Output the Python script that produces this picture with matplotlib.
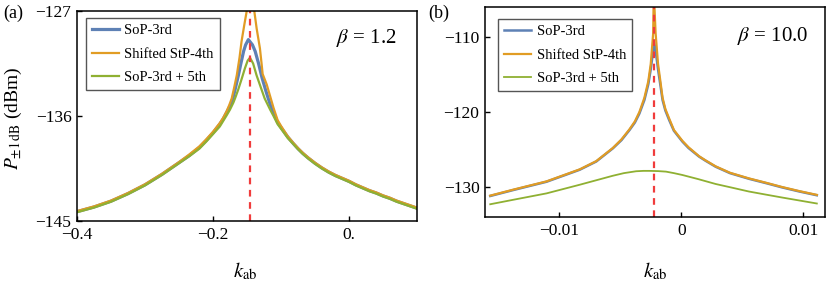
import matplotlib
matplotlib.use('Agg')
import matplotlib.pyplot as plt

plt.rcParams['font.family'] = ['Liberation Serif', 'DejaVu Serif']
plt.rcParams['mathtext.fontset'] = 'stix'

# --- panel (a), beta = 1.2 ---
k_a_blue = [-0.40, -0.375, -0.35, -0.325, -0.30, -0.275, -0.25, -0.235, -0.22, -0.21,
            -0.20, -0.19, -0.185, -0.18, -0.176, -0.1725, -0.168, -0.163, -0.159, -0.155,
            -0.152, -0.148, -0.142, -0.138, -0.133, -0.128, -0.122, -0.116, -0.112, -0.105,
            -0.098, -0.09, -0.082, -0.075, -0.068, -0.06, -0.05, -0.04, -0.03, -0.02,
            -0.01, 0.0, 0.01, 0.02, 0.03, 0.04, 0.05, 0.06, 0.07, 0.08, 0.09, 0.10]
p_a_blue = [-144.2, -143.8, -143.3, -142.65, -141.9, -141.0, -140.0, -139.4, -138.7, -138.1,
            -137.45, -136.7, -136.25, -135.7, -135.25, -134.85, -133.85, -132.6, -131.5, -130.45,
            -129.9, -129.45, -129.9, -130.45, -131.5, -132.7, -133.9, -135.0, -135.6, -136.55,
            -137.15, -137.8, -138.35, -138.8, -139.2, -139.6, -140.05, -140.45, -140.8, -141.1,
            -141.35, -141.6, -141.9, -142.15, -142.4, -142.6, -142.85, -143.05, -143.3, -143.5,
            -143.7, -143.9]

k_a_orange = [-0.40, -0.375, -0.35, -0.325, -0.30, -0.275, -0.25, -0.235, -0.22, -0.21,
              -0.20, -0.19, -0.185, -0.18, -0.176, -0.1725, -0.169, -0.165, -0.161, -0.158,
              -0.154, -0.1504, -0.147, -0.143, -0.1393, -0.1358, -0.131, -0.1284, -0.127,
              -0.121, -0.116, -0.111, -0.105, -0.10, -0.09, -0.082, -0.075, -0.068, -0.06,
              -0.05, -0.04, -0.03, -0.02, -0.01, 0.0, 0.01, 0.02, 0.03, 0.04, 0.05, 0.06,
              0.07, 0.08, 0.09, 0.10]
p_a_orange = [-144.15, -143.75, -143.25, -142.6, -141.85, -140.95, -139.95, -139.3, -138.6, -138.0,
              -137.35, -136.6, -136.15, -135.6, -135.05, -134.5, -133.6, -132.5, -131.0, -129.6,
              -128.2, -127.0, -125.5, -125.5, -127.0, -128.5, -130.2, -131.6, -132.4,
              -133.3, -134.3, -135.3, -136.35, -136.85, -137.75, -138.3, -138.75, -139.15, -139.55,
              -140.0, -140.4, -140.75, -141.05, -141.3, -141.55, -141.85, -142.1, -142.35, -142.55,
              -142.8, -143.0, -143.25, -143.45, -143.65, -143.85]

k_a_green = [-0.40, -0.375, -0.35, -0.325, -0.30, -0.275, -0.25, -0.235, -0.22, -0.21,
             -0.20, -0.19, -0.18, -0.175, -0.170, -0.167, -0.163, -0.158, -0.153, -0.149,
             -0.1456, -0.141, -0.136, -0.130, -0.124, -0.116, -0.111, -0.105, -0.098, -0.09,
             -0.082, -0.075, -0.068, -0.06, -0.05, -0.04, -0.03, -0.02, -0.01, 0.0, 0.01,
             0.02, 0.03, 0.04, 0.05, 0.06, 0.07, 0.08, 0.09, 0.10]
p_a_green = [-144.25, -143.85, -143.35, -142.7, -141.95, -141.05, -140.05, -139.45, -138.8, -138.2,
             -137.55, -136.9, -135.95, -135.45, -134.85, -134.4, -133.75, -132.85, -131.9, -131.25,
             -131.0, -131.5, -132.5, -133.5, -134.5, -135.45, -136.0, -136.7, -137.25, -137.9,
             -138.4, -138.85, -139.25, -139.65, -140.1, -140.5, -140.85, -141.15, -141.4, -141.65,
             -141.95, -142.2, -142.45, -142.65, -142.9, -143.1, -143.35, -143.55, -143.75, -143.95]

k_a_res = -0.145

# --- panel (b), beta = 10.0 ---
k_b_blue = [-0.01567, -0.01377, -0.01105, -0.00833, -0.00697, -0.00561, -0.0049, -0.00424,
            -0.0038, -0.00343, -0.00302, -0.0027, -0.0025, -0.0023, -0.00225, -0.0021,
            -0.0019, -0.0017, -0.00153, -0.0013, -0.00098, -0.0006, 0.0001, 0.0006,
            0.00147, 0.002, 0.00283, 0.004, 0.00555, 0.007, 0.00827, 0.0097, 0.01113]
p_b_blue = [-131.2, -130.4, -129.3, -127.7, -126.6, -124.85, -123.75, -122.4,
            -121.4, -120.2, -118.4, -116.3, -114.3, -111.8, -110.5, -111.8,
            -114.3, -116.5, -118.4, -119.8, -121.1, -122.5, -123.95, -124.8,
            -125.95, -126.5, -127.3, -128.15, -128.9, -129.5, -130.05, -130.6, -131.1]

k_b_orange = [-0.01567, -0.01377, -0.01105, -0.00833, -0.00697, -0.00561, -0.0049, -0.00424,
              -0.0038, -0.00343, -0.00302, -0.0027, -0.0025, -0.0023, -0.00225, -0.0021,
              -0.0019, -0.0017, -0.00153, -0.0013, -0.00098, -0.0006, 0.0001, 0.0006,
              0.00147, 0.002, 0.00283, 0.004, 0.00555, 0.007, 0.00827, 0.0097, 0.01113]
p_b_orange = [-131.15, -130.35, -129.25, -127.65, -126.55, -124.8, -123.65, -122.3,
              -121.25, -120.0, -118.1, -115.9, -113.6, -109.5, -104.0, -109.5,
              -113.6, -116.0, -118.1, -119.6, -120.9, -122.4, -123.85, -124.7,
              -125.9, -126.45, -127.25, -128.1, -128.85, -129.45, -130.0, -130.55, -131.05]

k_b_green = [-0.01567, -0.01377, -0.01105, -0.00833, -0.00561, -0.0047, -0.0037, -0.0031,
             -0.00261, -0.0019, -0.00125, -0.0006, 0.0001, 0.0014, 0.00283, 0.0042,
             0.00555, 0.0069, 0.00827, 0.0097, 0.01113]
p_b_green = [-132.3, -131.7, -130.85, -129.7, -128.5, -128.15, -127.9, -127.85,
             -127.85, -127.88, -127.95, -128.15, -128.4, -128.95, -129.6, -130.1,
             -130.6, -131.0, -131.4, -131.8, -132.2]

k_b_res = -0.0022

labels = ["SoP-3rd", "Shifted StP-4th", "SoP-3rd + 5th"]
c_blue, c_orange, c_green, c_red = "#5E81B5", "#E19C24", "#8FB032", "#F03C3C"

fig = plt.figure(figsize=(8.3, 2.82), dpi=100)
ax1 = fig.add_axes([77 / 830, 1 - 221 / 282, 340 / 830, 210 / 282])
ax2 = fig.add_axes([485 / 830, 1 - 217 / 282, 340 / 830, 210 / 282])


def style(ax):
    for s in ax.spines.values():
        s.set_linewidth(1.1)
    ax.tick_params(direction='in', length=3.5, width=1.0, labelsize=12.5, pad=4,
                   top=False, right=False)


def add_legend(ax, anchor):
    ax.legend(loc='upper left', bbox_to_anchor=anchor, fontsize=10.5, frameon=True,
              fancybox=False, edgecolor='#555555', framealpha=1, handlelength=1.85,
              handletextpad=0.4, labelspacing=0.72, borderpad=0.4, borderaxespad=0)


# panel (a)
ax1.plot(k_a_blue, p_a_blue, color=c_blue, lw=2.3, label=labels[0])
ax1.plot(k_a_orange, p_a_orange, color=c_orange, lw=1.6, label=labels[1])
ax1.plot(k_a_green, p_a_green, color=c_green, lw=1.6, label=labels[2])
ax1.axvline(k_a_res, color=c_red, lw=1.6, ls=(0, (3, 2.5)))
ax1.set_xlim(-0.4, 0.1)
ax1.set_ylim(-145, -127)
ax1.set_xticks([-0.4, -0.2, 0.0])
ax1.set_xticklabels(["\u22120.4", "\u22120.2", "0."])
ax1.set_yticks([-145, -136, -127])
ax1.set_yticklabels(["\u2212145", "\u2212136", "\u2212127"])
style(ax1)
ax1.set_ylabel(r"$P_{\pm 1\,\mathrm{dB}}$ (dBm)", fontsize=14)
ax1.yaxis.set_label_coords(-0.155, 0.49)
ax1.set_xlabel(r"$k_{\mathrm{ab}}$", fontsize=15)
ax1.xaxis.set_label_coords(0.494, -0.19)
ax1.text(0.94, 0.87, r"$\beta$ = 1.2", transform=ax1.transAxes, ha='right', va='center',
         fontsize=15)
add_legend(ax1, (0.026, 0.967))
fig.text(3 / 830, 1 - 13 / 282, "(a)", fontsize=13, ha='left', va='center')

# panel (b)
ax2.plot(k_b_blue, p_b_blue, color=c_blue, lw=1.8, label=labels[0])
ax2.plot(k_b_orange, p_b_orange, color=c_orange, lw=1.6, label=labels[1])
ax2.plot(k_b_green, p_b_green, color=c_green, lw=1.3, label=labels[2])
ax2.axvline(k_b_res, color=c_red, lw=1.6, ls=(0, (3, 2.5)))
ax2.set_xlim(-0.0161, 0.0118)
ax2.set_ylim(-134, -106)
ax2.set_xticks([-0.01, 0.0, 0.01])
ax2.set_xticklabels(["\u22120.01", "0", "0.01"])
ax2.set_yticks([-130, -120, -110])
ax2.set_yticklabels(["\u2212130", "\u2212120", "\u2212110"])
style(ax2)
ax2.set_xlabel(r"$k_{\mathrm{ab}}$", fontsize=15)
ax2.xaxis.set_label_coords(0.5, -0.21)
ax2.text(0.95, 0.86, r"$\beta$ = 10.0", transform=ax2.transAxes, ha='right', va='center',
         fontsize=15)
add_legend(ax2, (0.038, 0.943))
fig.text(428 / 830, 1 - 13 / 282, "(b)", fontsize=13, ha='left', va='center')

fig.savefig("out.png", dpi=100)
